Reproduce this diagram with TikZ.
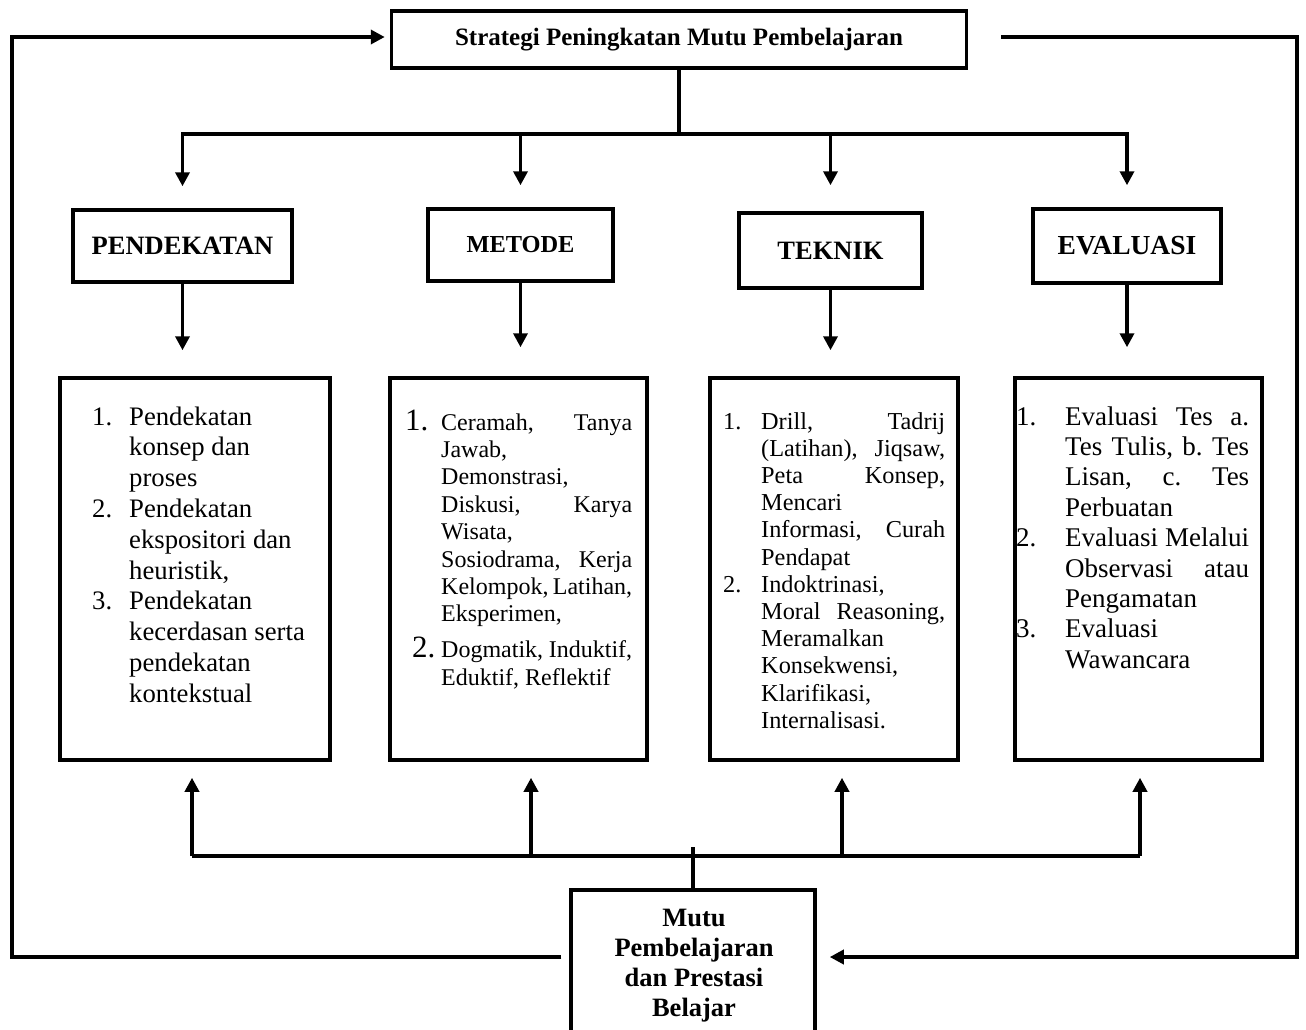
\documentclass[tikz,border=0pt]{standalone}
\usepackage{fontspec}
\setmainfont{Liberation Serif}
\usetikzlibrary{arrows.meta,calc}
\newlength\lnumw
\newcommand\Ln[2]{\hbox to \linewidth{\hbox to \lnumw{#1\hss}#2\hfil}}
\begin{document}
\begin{tikzpicture}[x=1pt,y=-1pt,
  ln/.style={line width=3.5pt},
  box/.style={draw, line width=3.5pt, inner sep=0pt, rectangle},
  arr/.style={ln, -{Triangle[length=14pt,width=14pt]}},
  hd/.style={box, font=\bfseries\fontsize{26.5}{30}\selectfont},
  txt/.style={anchor=base west, inner sep=0pt}
]
\useasboundingbox (0,0) rectangle (1306,1029);

% title and headers
\node[hd, font=\bfseries\fontsize{25}{30}\selectfont, minimum width=575pt, minimum height=57pt] (top) at (679,39.5) {Strategi Peningkatan Mutu Pembelajaran};
\node[hd, minimum width=219pt, minimum height=72pt] (h1) at (182.5,246) {PENDEKATAN};
\node[hd, font=\bfseries\fontsize{24.4}{28}\selectfont, minimum width=185pt, minimum height=72pt] (h2) at (520.5,245) {METODE};
\node[hd, minimum width=183pt, minimum height=75pt] (h3) at (830.5,250.5) {TEKNIK};
\node[hd, font=\bfseries\fontsize{27.5}{30}\selectfont, minimum width=188pt, minimum height=74pt] (h4) at (1127,246) {EVALUASI};

% content boxes
\node[box, minimum width=270pt, minimum height=382pt] (b1) at (195,569) {};
\node[box, minimum width=257pt, minimum height=382pt] (b2) at (518.5,569) {};
\node[box, minimum width=248pt, minimum height=382pt] (b3) at (834,569) {};
\node[box, minimum width=247pt, minimum height=382pt] (b4) at (1138.5,569) {};

% bottom box
\node[box, anchor=north, minimum width=244pt, minimum height=200pt] (mutu) at (693,888) {};
\node[anchor=base, inner sep=0pt, font=\bfseries\fontsize{26.5}{30.3}\selectfont] (mt) at (694,926)
  {\begin{minipage}[t]{240pt}\centering Mutu\\ Pembelajaran\\ dan Prestasi\\ Belajar\end{minipage}};

% box texts
\node[txt] (t1) at (92,425) {\fontsize{26.7}{30.8}\selectfont\setlength\lnumw{37pt}%
\begin{minipage}[t]{230pt}
\Ln{1.}{Pendekatan}
\Ln{}{konsep dan}
\Ln{}{proses}
\Ln{2.}{Pendekatan}
\Ln{}{ekspositori dan}
\Ln{}{heuristik,}
\Ln{3.}{Pendekatan}
\Ln{}{kecerdasan serta}
\Ln{}{pendekatan}
\Ln{}{kontekstual}
\end{minipage}};

\node[txt] (t2) at (405,430) {\fontsize{24}{27.4}\selectfont\setlength\lnumw{36pt}%
\begin{minipage}[t]{227pt}
\Ln{\fontsize{31}{31}\selectfont 1.}{Ceramah,\hfill Tanya}
\Ln{}{Jawab,}
\Ln{}{Demonstrasi,}
\Ln{}{Diskusi,\hfill Karya}
\Ln{}{Wisata,}
\Ln{}{Sosiodrama,\hfill Kerja}
\Ln{}{Kelompok,\hfill Latihan,}
\Ln{}{Eksperimen,}
\vskip 8.6pt
\Ln{\hskip7pt\fontsize{31}{31}\selectfont 2.}{Dogmatik,\hfill Induktif,}
\Ln{}{Eduktif, Reflektif}
\end{minipage}};

\node[txt] (t3) at (723,429) {\fontsize{24.3}{27.2}\selectfont\setlength\lnumw{38pt}%
\begin{minipage}[t]{222pt}
\Ln{1.}{Drill,\hfill Tadrij}
\Ln{}{(Latihan),\hfill Jiqsaw,}
\Ln{}{Peta\hfill Konsep,}
\Ln{}{Mencari}
\Ln{}{Informasi,\hfill Curah}
\Ln{}{Pendapat}
\Ln{2.}{Indoktrinasi,}
\Ln{}{Moral\hfill Reasoning,}
\Ln{}{Meramalkan}
\Ln{}{Konsekwensi,}
\Ln{}{Klarifikasi,}
\Ln{}{Internalisasi.}
\end{minipage}};

\node[txt] (t4) at (1016,425) {\fontsize{27}{30.4}\selectfont\setlength\lnumw{49pt}%
\begin{minipage}[t]{233pt}
\Ln{1.}{Evaluasi\hfill Tes\hfill a.}
\Ln{}{Tes\hfill Tulis,\hfill b.\hfill Tes}
\Ln{}{Lisan,\hfill c.\hfill Tes}
\Ln{}{Perbuatan}
\Ln{2.}{Evaluasi\hfill Melalui}
\Ln{}{Observasi\hfill atau}
\Ln{}{Pengamatan}
\Ln{3.}{Evaluasi}
\Ln{}{Wawancara}
\end{minipage}};

% top bus
\coordinate (bT) at (679,134);
\draw[ln] (top.south) -- (bT);
\draw[arr, shorten >=22pt] (bT) -| (h1.north);
\draw[arr, shorten >=22pt] (bT) -| (h4.north);
\draw[arr, shorten >=22pt] (bT -| h2.north) -- (h2.north);
\draw[arr, shorten >=26pt] (bT -| h3.north) -- (h3.north);

% header to content
\draw[arr, shorten >=26pt] (h1.south) -- (h1.south |- b1.north);
\draw[arr, shorten >=29pt] (h2.south) -- (h2.south |- b2.north);
\draw[arr, shorten >=26pt] (h3.south) -- (h3.south |- b3.north);
\draw[arr, shorten >=29pt] (h4.south) -- (h4.south |- b4.north);

% bottom bus
\coordinate (u1) at (192,856);
\coordinate (u2) at (531,856);
\coordinate (u3) at (842,856);
\coordinate (u4) at (1140,856);
\draw[ln, line cap=square] (u1) -- (u4);
\draw[ln] (mutu.north) -- ++(0,-41);
\draw[arr, shorten >=16pt] (u1) -- (u1 |- b1.south);
\draw[arr, shorten >=16pt] (u2) -- (u2 |- b2.south);
\draw[arr, shorten >=16pt] (u3) -- (u3 |- b3.south);
\draw[arr, shorten >=16pt] (u4) -- (u4 |- b4.south);

% feedback loops
\coordinate (fl) at (12,957);
\coordinate (flt) at (12,37);
\draw[arr, shorten >=5pt] ($(mutu.west |- fl)+(-8,0)$) -- (fl) -- (flt) -- (top.west |- flt);
\coordinate (fr) at (1297,37);
\coordinate (frb) at (1297,957);
\draw[arr, shorten >=13pt] ($(top.east |- fr)+(33,0)$) -- (fr) -- (frb) -- (mutu.east |- frb);
\end{tikzpicture}
\end{document}
